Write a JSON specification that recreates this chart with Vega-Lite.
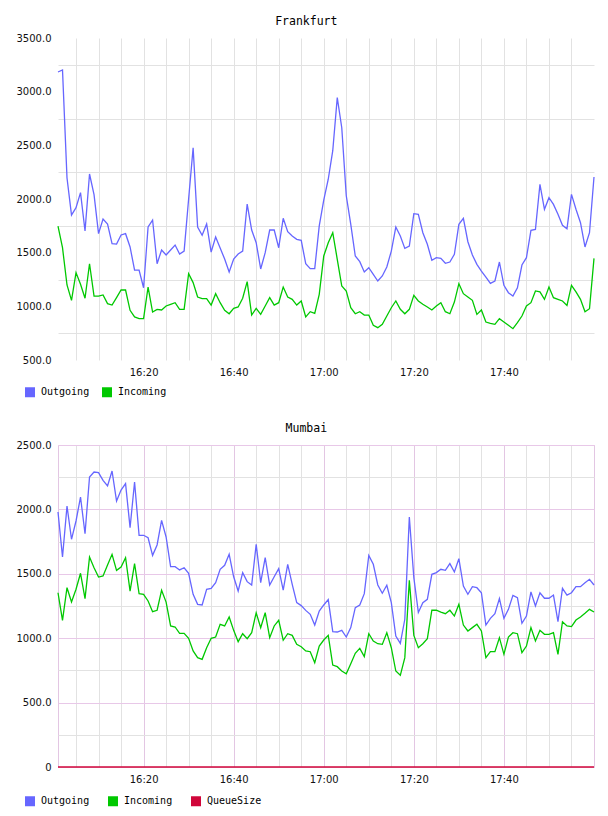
{
"$schema": "https://vega.github.io/schema/vega-lite/v6.json",
"padding": {"left": 15, "top": 15, "right": 0, "bottom": 0},
"background": "white",
"config": {
  "font": "DejaVu Sans",
  "view": {"stroke": null},
  "axis": {"labelFont": "DejaVu Sans", "labelFontSize": 10, "labelColor": "#111", "ticks": false, "domain": false, "labelOverlap": false},
  "title": {"font": "DejaVu Sans Mono", "fontSize": 11.5, "fontWeight": "normal", "color": "#000", "offset": 6, "frame": "bounds", "anchor": "middle"},
  "legend": {"direction": "horizontal", "symbolType": "square", "symbolSize": 25, "symbolStrokeWidth": 5, "symbolOpacity": 1, "labelFont": "DejaVu Sans Mono", "labelFontSize": 10, "labelColor": "#000", "labelOffset": 6, "padding": 0}
},
"spacing": 17,
"resolve": {"scale": {"x": "independent", "y": "independent", "color": "independent"}},
"vconcat": [
{
  "title": "Frankfurt",
  "width": 536, "height": 322,
  "data": {"values": [
{"t":"2024-01-01T16:01","Outgoing":3183,"Incoming":1748},{"t":"2024-01-01T16:02","Outgoing":3202,"Incoming":1546},{"t":"2024-01-01T16:03","Outgoing":2196,"Incoming":1199},{"t":"2024-01-01T16:04","Outgoing":1851,"Incoming":1056},{"t":"2024-01-01T16:05","Outgoing":1919,"Incoming":1314},{"t":"2024-01-01T16:06","Outgoing":2059,"Incoming":1205},{"t":"2024-01-01T16:07","Outgoing":1702,"Incoming":1075},{"t":"2024-01-01T16:08","Outgoing":2233,"Incoming":1397},{"t":"2024-01-01T16:09","Outgoing":2040,"Incoming":1096},{"t":"2024-01-01T16:10","Outgoing":1677,"Incoming":1096},
{"t":"2024-01-01T16:11","Outgoing":1813,"Incoming":1106},{"t":"2024-01-01T16:12","Outgoing":1767,"Incoming":1025},{"t":"2024-01-01T16:13","Outgoing":1583,"Incoming":1012},{"t":"2024-01-01T16:14","Outgoing":1580,"Incoming":1081},{"t":"2024-01-01T16:15","Outgoing":1665,"Incoming":1152},{"t":"2024-01-01T16:16","Outgoing":1677,"Incoming":1152},{"t":"2024-01-01T16:17","Outgoing":1553,"Incoming":963},{"t":"2024-01-01T16:18","Outgoing":1338,"Incoming":901},{"t":"2024-01-01T16:19","Outgoing":1338,"Incoming":885},{"t":"2024-01-01T16:20","Outgoing":1173,"Incoming":885},
{"t":"2024-01-01T16:21","Outgoing":1739,"Incoming":1180},{"t":"2024-01-01T16:22","Outgoing":1804,"Incoming":947},{"t":"2024-01-01T16:23","Outgoing":1397,"Incoming":972},{"t":"2024-01-01T16:24","Outgoing":1525,"Incoming":966},{"t":"2024-01-01T16:25","Outgoing":1478,"Incoming":1003},{"t":"2024-01-01T16:26","Outgoing":1525,"Incoming":1019},{"t":"2024-01-01T16:27","Outgoing":1571,"Incoming":1034},{"t":"2024-01-01T16:28","Outgoing":1487,"Incoming":972},{"t":"2024-01-01T16:29","Outgoing":1515,"Incoming":972},{"t":"2024-01-01T16:30","Outgoing":2000,"Incoming":1304},
{"t":"2024-01-01T16:31","Outgoing":2478,"Incoming":1221},{"t":"2024-01-01T16:32","Outgoing":1739,"Incoming":1087},{"t":"2024-01-01T16:33","Outgoing":1662,"Incoming":1071},{"t":"2024-01-01T16:34","Outgoing":1767,"Incoming":1071},{"t":"2024-01-01T16:35","Outgoing":1506,"Incoming":1012},{"t":"2024-01-01T16:36","Outgoing":1646,"Incoming":1118},{"t":"2024-01-01T16:37","Outgoing":1543,"Incoming":1034},{"t":"2024-01-01T16:38","Outgoing":1441,"Incoming":963},{"t":"2024-01-01T16:39","Outgoing":1320,"Incoming":931},{"t":"2024-01-01T16:40","Outgoing":1441,"Incoming":981},
{"t":"2024-01-01T16:41","Outgoing":1487,"Incoming":994},{"t":"2024-01-01T16:42","Outgoing":1515,"Incoming":1075},{"t":"2024-01-01T16:43","Outgoing":1953,"Incoming":1230},{"t":"2024-01-01T16:44","Outgoing":1711,"Incoming":919},{"t":"2024-01-01T16:45","Outgoing":1593,"Incoming":981},{"t":"2024-01-01T16:46","Outgoing":1348,"Incoming":925},{"t":"2024-01-01T16:47","Outgoing":1500,"Incoming":1003},{"t":"2024-01-01T16:48","Outgoing":1711,"Incoming":1081},{"t":"2024-01-01T16:49","Outgoing":1711,"Incoming":1012},{"t":"2024-01-01T16:50","Outgoing":1546,"Incoming":1034},
{"t":"2024-01-01T16:51","Outgoing":1820,"Incoming":1180},{"t":"2024-01-01T16:52","Outgoing":1696,"Incoming":1087},{"t":"2024-01-01T16:53","Outgoing":1655,"Incoming":1065},{"t":"2024-01-01T16:54","Outgoing":1624,"Incoming":1012},{"t":"2024-01-01T16:55","Outgoing":1615,"Incoming":1050},{"t":"2024-01-01T16:56","Outgoing":1397,"Incoming":901},{"t":"2024-01-01T16:57","Outgoing":1351,"Incoming":950},{"t":"2024-01-01T16:58","Outgoing":1351,"Incoming":935},{"t":"2024-01-01T16:59","Outgoing":1750,"Incoming":1112},{"t":"2024-01-01T17:00","Outgoing":1990,"Incoming":1469},
{"t":"2024-01-01T17:01","Outgoing":2184,"Incoming":1593},{"t":"2024-01-01T17:02","Outgoing":2450,"Incoming":1686},{"t":"2024-01-01T17:03","Outgoing":2944,"Incoming":1438},{"t":"2024-01-01T17:04","Outgoing":2664,"Incoming":1189},{"t":"2024-01-01T17:05","Outgoing":2030,"Incoming":1143},{"t":"2024-01-01T17:06","Outgoing":1764,"Incoming":987},{"t":"2024-01-01T17:07","Outgoing":1469,"Incoming":931},{"t":"2024-01-01T17:08","Outgoing":1416,"Incoming":950},{"t":"2024-01-01T17:09","Outgoing":1320,"Incoming":919},{"t":"2024-01-01T17:10","Outgoing":1360,"Incoming":919},
{"t":"2024-01-01T17:11","Outgoing":1298,"Incoming":823},{"t":"2024-01-01T17:12","Outgoing":1236,"Incoming":801},{"t":"2024-01-01T17:13","Outgoing":1283,"Incoming":832},{"t":"2024-01-01T17:14","Outgoing":1367,"Incoming":910},{"t":"2024-01-01T17:15","Outgoing":1515,"Incoming":987},{"t":"2024-01-01T17:16","Outgoing":1739,"Incoming":1050},{"t":"2024-01-01T17:17","Outgoing":1655,"Incoming":972},{"t":"2024-01-01T17:18","Outgoing":1540,"Incoming":931},{"t":"2024-01-01T17:19","Outgoing":1562,"Incoming":972},{"t":"2024-01-01T17:20","Outgoing":1863,"Incoming":1103},
{"t":"2024-01-01T17:21","Outgoing":1857,"Incoming":1050},{"t":"2024-01-01T17:22","Outgoing":1686,"Incoming":1019},{"t":"2024-01-01T17:23","Outgoing":1578,"Incoming":994},{"t":"2024-01-01T17:24","Outgoing":1429,"Incoming":966},{"t":"2024-01-01T17:25","Outgoing":1453,"Incoming":1003},{"t":"2024-01-01T17:26","Outgoing":1447,"Incoming":1034},{"t":"2024-01-01T17:27","Outgoing":1401,"Incoming":950},{"t":"2024-01-01T17:28","Outgoing":1413,"Incoming":931},{"t":"2024-01-01T17:29","Outgoing":1484,"Incoming":1040},{"t":"2024-01-01T17:30","Outgoing":1764,"Incoming":1211},
{"t":"2024-01-01T17:31","Outgoing":1820,"Incoming":1118},{"t":"2024-01-01T17:32","Outgoing":1602,"Incoming":1087},{"t":"2024-01-01T17:33","Outgoing":1478,"Incoming":1056},{"t":"2024-01-01T17:34","Outgoing":1391,"Incoming":925},{"t":"2024-01-01T17:35","Outgoing":1329,"Incoming":966},{"t":"2024-01-01T17:36","Outgoing":1273,"Incoming":854},{"t":"2024-01-01T17:37","Outgoing":1214,"Incoming":842},{"t":"2024-01-01T17:38","Outgoing":1236,"Incoming":832},{"t":"2024-01-01T17:39","Outgoing":1413,"Incoming":885},{"t":"2024-01-01T17:40","Outgoing":1196,"Incoming":854},
{"t":"2024-01-01T17:41","Outgoing":1127,"Incoming":823},{"t":"2024-01-01T17:42","Outgoing":1096,"Incoming":792},{"t":"2024-01-01T17:43","Outgoing":1173,"Incoming":848},{"t":"2024-01-01T17:44","Outgoing":1385,"Incoming":910},{"t":"2024-01-01T17:45","Outgoing":1453,"Incoming":1003},{"t":"2024-01-01T17:46","Outgoing":1708,"Incoming":1034},{"t":"2024-01-01T17:47","Outgoing":1717,"Incoming":1143},{"t":"2024-01-01T17:48","Outgoing":2137,"Incoming":1134},{"t":"2024-01-01T17:49","Outgoing":1904,"Incoming":1065},{"t":"2024-01-01T17:50","Outgoing":2012,"Incoming":1180},
{"t":"2024-01-01T17:51","Outgoing":1950,"Incoming":1081},{"t":"2024-01-01T17:52","Outgoing":1857,"Incoming":1065},{"t":"2024-01-01T17:53","Outgoing":1755,"Incoming":1050},{"t":"2024-01-01T17:54","Outgoing":1723,"Incoming":1009},{"t":"2024-01-01T17:55","Outgoing":2043,"Incoming":1196},{"t":"2024-01-01T17:56","Outgoing":1904,"Incoming":1134},{"t":"2024-01-01T17:57","Outgoing":1779,"Incoming":1065},{"t":"2024-01-01T17:58","Outgoing":1553,"Incoming":950},{"t":"2024-01-01T17:59","Outgoing":1686,"Incoming":978},{"t":"2024-01-01T18:00","Outgoing":2205,"Incoming":1447}
  ]},
  "transform": [{"fold": ["Outgoing", "Incoming"], "as": ["series", "value"]}],
  "mark": {"type": "line", "strokeWidth": 1.3},
  "encoding": {
    "x": {"field": "t", "type": "temporal", "title": null, "scale": {"nice": false},
      "axis": {"values": [
        {"year":2024,"month":1,"date":1,"hours":16,"minutes":5},{"year":2024,"month":1,"date":1,"hours":16,"minutes":10},{"year":2024,"month":1,"date":1,"hours":16,"minutes":15},{"year":2024,"month":1,"date":1,"hours":16,"minutes":20},
        {"year":2024,"month":1,"date":1,"hours":16,"minutes":25},{"year":2024,"month":1,"date":1,"hours":16,"minutes":30},{"year":2024,"month":1,"date":1,"hours":16,"minutes":35},{"year":2024,"month":1,"date":1,"hours":16,"minutes":40},
        {"year":2024,"month":1,"date":1,"hours":16,"minutes":45},{"year":2024,"month":1,"date":1,"hours":16,"minutes":50},{"year":2024,"month":1,"date":1,"hours":16,"minutes":55},{"year":2024,"month":1,"date":1,"hours":17,"minutes":0},
        {"year":2024,"month":1,"date":1,"hours":17,"minutes":5},{"year":2024,"month":1,"date":1,"hours":17,"minutes":10},{"year":2024,"month":1,"date":1,"hours":17,"minutes":15},{"year":2024,"month":1,"date":1,"hours":17,"minutes":20},
        {"year":2024,"month":1,"date":1,"hours":17,"minutes":25},{"year":2024,"month":1,"date":1,"hours":17,"minutes":30},{"year":2024,"month":1,"date":1,"hours":17,"minutes":35},{"year":2024,"month":1,"date":1,"hours":17,"minutes":40},
        {"year":2024,"month":1,"date":1,"hours":17,"minutes":45},{"year":2024,"month":1,"date":1,"hours":17,"minutes":50},{"year":2024,"month":1,"date":1,"hours":17,"minutes":55}],
        "grid": true, "gridColor": "#e2e2e2",
        "labelExpr": "minutes(datum.value) % 20 == 0 ? timeFormat(datum.value, '%H:%M') : ''",
        "labelPadding": 7, "labelFlush": false}},
    "y": {"field": "value", "type": "quantitative", "title": null, "scale": {"domain": [500, 3500], "nice": false, "zero": false},
      "axis": {"values": [500, 750, 1000, 1250, 1500, 1750, 2000, 2250, 2500, 2750, 3000, 3250, 3500], "grid": true, "gridColor": "#e2e2e2",
        "gridOpacity": {"condition": {"test": "datum.value % 500 == 0", "value": 0}, "value": 1},
        "labelExpr": "datum.value % 500 == 0 ? format(datum.value, '.1f') : ''", "labelPadding": 7}},
    "color": {"field": "series", "type": "nominal", "title": null, "scale": {"domain": ["Outgoing", "Incoming"], "range": ["#6666ff", "#00c800"]},
      "legend": {"orient": "none", "legendX": -33, "legendY": 349, "columnPadding": 4}}
  }
},
{
  "title": "Mumbai",
  "width": 536, "height": 322,
  "view": {"stroke": "#e3c6e3", "strokeWidth": 1},
  "data": {"values": [
{"t":"2024-01-01T16:01","Outgoing":1980,"Incoming":1353,"QueueSize":0},{"t":"2024-01-01T16:02","Outgoing":1630,"Incoming":1138,"QueueSize":0},{"t":"2024-01-01T16:03","Outgoing":2026,"Incoming":1392,"QueueSize":0},{"t":"2024-01-01T16:04","Outgoing":1768,"Incoming":1281,"QueueSize":0},{"t":"2024-01-01T16:05","Outgoing":1910,"Incoming":1380,"QueueSize":0},{"t":"2024-01-01T16:06","Outgoing":2096,"Incoming":1504,"QueueSize":0},{"t":"2024-01-01T16:07","Outgoing":1811,"Incoming":1307,"QueueSize":0},{"t":"2024-01-01T16:08","Outgoing":2252,"Incoming":1630,"QueueSize":0},{"t":"2024-01-01T16:09","Outgoing":2290,"Incoming":1547,"QueueSize":0},{"t":"2024-01-01T16:10","Outgoing":2285,"Incoming":1475,"QueueSize":0},
{"t":"2024-01-01T16:11","Outgoing":2226,"Incoming":1483,"QueueSize":0},{"t":"2024-01-01T16:12","Outgoing":2182,"Incoming":1568,"QueueSize":0},{"t":"2024-01-01T16:13","Outgoing":2298,"Incoming":1651,"QueueSize":0},{"t":"2024-01-01T16:14","Outgoing":2065,"Incoming":1527,"QueueSize":0},{"t":"2024-01-01T16:15","Outgoing":2150,"Incoming":1553,"QueueSize":0},{"t":"2024-01-01T16:16","Outgoing":2200,"Incoming":1625,"QueueSize":0},{"t":"2024-01-01T16:17","Outgoing":1858,"Incoming":1366,"QueueSize":0},{"t":"2024-01-01T16:18","Outgoing":2213,"Incoming":1579,"QueueSize":0},{"t":"2024-01-01T16:19","Outgoing":1799,"Incoming":1346,"QueueSize":0},{"t":"2024-01-01T16:20","Outgoing":1799,"Incoming":1341,"QueueSize":0},
{"t":"2024-01-01T16:21","Outgoing":1780,"Incoming":1289,"QueueSize":0},{"t":"2024-01-01T16:22","Outgoing":1643,"Incoming":1206,"QueueSize":0},{"t":"2024-01-01T16:23","Outgoing":1724,"Incoming":1217,"QueueSize":0},{"t":"2024-01-01T16:24","Outgoing":1915,"Incoming":1372,"QueueSize":0},{"t":"2024-01-01T16:25","Outgoing":1786,"Incoming":1280,"QueueSize":0},{"t":"2024-01-01T16:26","Outgoing":1555,"Incoming":1095,"QueueSize":0},{"t":"2024-01-01T16:27","Outgoing":1555,"Incoming":1087,"QueueSize":0},{"t":"2024-01-01T16:28","Outgoing":1530,"Incoming":1038,"QueueSize":0},{"t":"2024-01-01T16:29","Outgoing":1547,"Incoming":1038,"QueueSize":0},{"t":"2024-01-01T16:30","Outgoing":1504,"Incoming":999,"QueueSize":0},
{"t":"2024-01-01T16:31","Outgoing":1341,"Incoming":901,"QueueSize":0},{"t":"2024-01-01T16:32","Outgoing":1263,"Incoming":849,"QueueSize":0},{"t":"2024-01-01T16:33","Outgoing":1258,"Incoming":836,"QueueSize":0},{"t":"2024-01-01T16:34","Outgoing":1380,"Incoming":926,"QueueSize":0},{"t":"2024-01-01T16:35","Outgoing":1387,"Incoming":999,"QueueSize":0},{"t":"2024-01-01T16:36","Outgoing":1431,"Incoming":1009,"QueueSize":0},{"t":"2024-01-01T16:37","Outgoing":1535,"Incoming":1108,"QueueSize":0},{"t":"2024-01-01T16:38","Outgoing":1566,"Incoming":1095,"QueueSize":0},{"t":"2024-01-01T16:39","Outgoing":1651,"Incoming":1165,"QueueSize":0},{"t":"2024-01-01T16:40","Outgoing":1477,"Incoming":1061,"QueueSize":0},
{"t":"2024-01-01T16:41","Outgoing":1366,"Incoming":973,"QueueSize":0},{"t":"2024-01-01T16:42","Outgoing":1509,"Incoming":1035,"QueueSize":0},{"t":"2024-01-01T16:43","Outgoing":1439,"Incoming":996,"QueueSize":0},{"t":"2024-01-01T16:44","Outgoing":1413,"Incoming":1043,"QueueSize":0},{"t":"2024-01-01T16:45","Outgoing":1729,"Incoming":1198,"QueueSize":0},{"t":"2024-01-01T16:46","Outgoing":1431,"Incoming":1082,"QueueSize":0},{"t":"2024-01-01T16:47","Outgoing":1625,"Incoming":1198,"QueueSize":0},{"t":"2024-01-01T16:48","Outgoing":1413,"Incoming":1004,"QueueSize":0},{"t":"2024-01-01T16:49","Outgoing":1477,"Incoming":1095,"QueueSize":0},{"t":"2024-01-01T16:50","Outgoing":1540,"Incoming":1139,"QueueSize":0},
{"t":"2024-01-01T16:51","Outgoing":1374,"Incoming":984,"QueueSize":0},{"t":"2024-01-01T16:52","Outgoing":1574,"Incoming":1035,"QueueSize":0},{"t":"2024-01-01T16:53","Outgoing":1418,"Incoming":1022,"QueueSize":0},{"t":"2024-01-01T16:54","Outgoing":1276,"Incoming":952,"QueueSize":0},{"t":"2024-01-01T16:55","Outgoing":1253,"Incoming":934,"QueueSize":0},{"t":"2024-01-01T16:56","Outgoing":1216,"Incoming":901,"QueueSize":0},{"t":"2024-01-01T16:57","Outgoing":1185,"Incoming":895,"QueueSize":0},{"t":"2024-01-01T16:58","Outgoing":1102,"Incoming":810,"QueueSize":0},{"t":"2024-01-01T16:59","Outgoing":1211,"Incoming":939,"QueueSize":0},{"t":"2024-01-01T17:00","Outgoing":1258,"Incoming":986,"QueueSize":0},
{"t":"2024-01-01T17:01","Outgoing":1300,"Incoming":1022,"QueueSize":0},{"t":"2024-01-01T17:02","Outgoing":1051,"Incoming":792,"QueueSize":0},{"t":"2024-01-01T17:03","Outgoing":1048,"Incoming":779,"QueueSize":0},{"t":"2024-01-01T17:04","Outgoing":1061,"Incoming":745,"QueueSize":0},{"t":"2024-01-01T17:05","Outgoing":1009,"Incoming":724,"QueueSize":0},{"t":"2024-01-01T17:06","Outgoing":1082,"Incoming":802,"QueueSize":0},{"t":"2024-01-01T17:07","Outgoing":1237,"Incoming":883,"QueueSize":0},{"t":"2024-01-01T17:08","Outgoing":1258,"Incoming":921,"QueueSize":0},{"t":"2024-01-01T17:09","Outgoing":1346,"Incoming":857,"QueueSize":0},{"t":"2024-01-01T17:10","Outgoing":1643,"Incoming":1035,"QueueSize":0},
{"t":"2024-01-01T17:11","Outgoing":1574,"Incoming":978,"QueueSize":0},{"t":"2024-01-01T17:12","Outgoing":1413,"Incoming":957,"QueueSize":0},{"t":"2024-01-01T17:13","Outgoing":1349,"Incoming":952,"QueueSize":0},{"t":"2024-01-01T17:14","Outgoing":1411,"Incoming":1043,"QueueSize":0},{"t":"2024-01-01T17:15","Outgoing":1276,"Incoming":926,"QueueSize":0},{"t":"2024-01-01T17:16","Outgoing":1017,"Incoming":745,"QueueSize":0},{"t":"2024-01-01T17:17","Outgoing":960,"Incoming":712,"QueueSize":0},{"t":"2024-01-01T17:18","Outgoing":1147,"Incoming":849,"QueueSize":0},{"t":"2024-01-01T17:19","Outgoing":1941,"Incoming":1449,"QueueSize":0},{"t":"2024-01-01T17:20","Outgoing":1470,"Incoming":1022,"QueueSize":0},
{"t":"2024-01-01T17:21","Outgoing":1200,"Incoming":926,"QueueSize":0},{"t":"2024-01-01T17:22","Outgoing":1276,"Incoming":957,"QueueSize":0},{"t":"2024-01-01T17:23","Outgoing":1302,"Incoming":996,"QueueSize":0},{"t":"2024-01-01T17:24","Outgoing":1496,"Incoming":1217,"QueueSize":0},{"t":"2024-01-01T17:25","Outgoing":1509,"Incoming":1217,"QueueSize":0},{"t":"2024-01-01T17:26","Outgoing":1535,"Incoming":1203,"QueueSize":0},{"t":"2024-01-01T17:27","Outgoing":1527,"Incoming":1190,"QueueSize":0},{"t":"2024-01-01T17:28","Outgoing":1579,"Incoming":1217,"QueueSize":0},{"t":"2024-01-01T17:29","Outgoing":1514,"Incoming":1172,"QueueSize":0},{"t":"2024-01-01T17:30","Outgoing":1617,"Incoming":1263,"QueueSize":0},
{"t":"2024-01-01T17:31","Outgoing":1405,"Incoming":1102,"QueueSize":0},{"t":"2024-01-01T17:32","Outgoing":1341,"Incoming":1056,"QueueSize":0},{"t":"2024-01-01T17:33","Outgoing":1400,"Incoming":1082,"QueueSize":0},{"t":"2024-01-01T17:34","Outgoing":1392,"Incoming":1108,"QueueSize":0},{"t":"2024-01-01T17:35","Outgoing":1353,"Incoming":1056,"QueueSize":0},{"t":"2024-01-01T17:36","Outgoing":1102,"Incoming":849,"QueueSize":0},{"t":"2024-01-01T17:37","Outgoing":1154,"Incoming":895,"QueueSize":0},{"t":"2024-01-01T17:38","Outgoing":1190,"Incoming":895,"QueueSize":0},{"t":"2024-01-01T17:39","Outgoing":1307,"Incoming":1004,"QueueSize":0},{"t":"2024-01-01T17:40","Outgoing":1154,"Incoming":875,"QueueSize":0},
{"t":"2024-01-01T17:41","Outgoing":1224,"Incoming":1009,"QueueSize":0},{"t":"2024-01-01T17:42","Outgoing":1333,"Incoming":1043,"QueueSize":0},{"t":"2024-01-01T17:43","Outgoing":1315,"Incoming":1035,"QueueSize":0},{"t":"2024-01-01T17:44","Outgoing":1116,"Incoming":888,"QueueSize":0},{"t":"2024-01-01T17:45","Outgoing":1172,"Incoming":939,"QueueSize":0},{"t":"2024-01-01T17:46","Outgoing":1359,"Incoming":1082,"QueueSize":0},{"t":"2024-01-01T17:47","Outgoing":1250,"Incoming":978,"QueueSize":0},{"t":"2024-01-01T17:48","Outgoing":1353,"Incoming":1061,"QueueSize":0},{"t":"2024-01-01T17:49","Outgoing":1310,"Incoming":1030,"QueueSize":0},{"t":"2024-01-01T17:50","Outgoing":1310,"Incoming":1030,"QueueSize":0},
{"t":"2024-01-01T17:51","Outgoing":1335,"Incoming":1043,"QueueSize":0},{"t":"2024-01-01T17:52","Outgoing":1128,"Incoming":875,"QueueSize":0},{"t":"2024-01-01T17:53","Outgoing":1387,"Incoming":1128,"QueueSize":0},{"t":"2024-01-01T17:54","Outgoing":1335,"Incoming":1095,"QueueSize":0},{"t":"2024-01-01T17:55","Outgoing":1353,"Incoming":1090,"QueueSize":0},{"t":"2024-01-01T17:56","Outgoing":1400,"Incoming":1141,"QueueSize":0},{"t":"2024-01-01T17:57","Outgoing":1400,"Incoming":1165,"QueueSize":0},{"t":"2024-01-01T17:58","Outgoing":1431,"Incoming":1193,"QueueSize":0},{"t":"2024-01-01T17:59","Outgoing":1457,"Incoming":1224,"QueueSize":0},{"t":"2024-01-01T18:00","Outgoing":1413,"Incoming":1203,"QueueSize":0}
  ]},
  "transform": [{"fold": ["Outgoing", "Incoming", "QueueSize"], "as": ["series", "value"]}],
  "mark": {"type": "line", "strokeWidth": 1.3},
  "encoding": {
    "x": {"field": "t", "type": "temporal", "title": null, "scale": {"nice": false},
      "axis": {"values": [
        {"year":2024,"month":1,"date":1,"hours":16,"minutes":5},{"year":2024,"month":1,"date":1,"hours":16,"minutes":10},{"year":2024,"month":1,"date":1,"hours":16,"minutes":15},{"year":2024,"month":1,"date":1,"hours":16,"minutes":20},
        {"year":2024,"month":1,"date":1,"hours":16,"minutes":25},{"year":2024,"month":1,"date":1,"hours":16,"minutes":30},{"year":2024,"month":1,"date":1,"hours":16,"minutes":35},{"year":2024,"month":1,"date":1,"hours":16,"minutes":40},
        {"year":2024,"month":1,"date":1,"hours":16,"minutes":45},{"year":2024,"month":1,"date":1,"hours":16,"minutes":50},{"year":2024,"month":1,"date":1,"hours":16,"minutes":55},{"year":2024,"month":1,"date":1,"hours":17,"minutes":0},
        {"year":2024,"month":1,"date":1,"hours":17,"minutes":5},{"year":2024,"month":1,"date":1,"hours":17,"minutes":10},{"year":2024,"month":1,"date":1,"hours":17,"minutes":15},{"year":2024,"month":1,"date":1,"hours":17,"minutes":20},
        {"year":2024,"month":1,"date":1,"hours":17,"minutes":25},{"year":2024,"month":1,"date":1,"hours":17,"minutes":30},{"year":2024,"month":1,"date":1,"hours":17,"minutes":35},{"year":2024,"month":1,"date":1,"hours":17,"minutes":40},
        {"year":2024,"month":1,"date":1,"hours":17,"minutes":45},{"year":2024,"month":1,"date":1,"hours":17,"minutes":50},{"year":2024,"month":1,"date":1,"hours":17,"minutes":55},{"year":2024,"month":1,"date":1,"hours":18,"minutes":0}],
        "grid": true,
        "gridColor": {"condition": {"test": "minutes(datum.value) % 20 == 0", "value": "#e3c6e3"}, "value": "#e2e2e2"},
        "labelExpr": "minutes(datum.value) % 20 == 0 && hours(datum.value) < 18 ? timeFormat(datum.value, '%H:%M') : ''",
        "labelPadding": 7, "labelFlush": false}},
    "y": {"field": "value", "type": "quantitative", "title": null, "scale": {"domain": [0, 2500], "nice": false},
      "axis": {"values": [0, 250, 500, 750, 1000, 1250, 1500, 1750, 2000, 2250, 2500], "grid": true,
        "gridColor": {"condition": {"test": "datum.value % 500 == 0", "value": "#e8c8e8"}, "value": "#e2e2e2"},
        "labelExpr": "datum.value == 0 ? '0' : datum.value % 500 == 0 ? format(datum.value, '.1f') : ''", "labelPadding": 7}},
    "color": {"field": "series", "type": "nominal", "title": null, "scale": {"domain": ["Outgoing", "Incoming", "QueueSize"], "range": ["#6666ff", "#00c800", "#d0063a"]},
      "legend": {"orient": "none", "legendX": -33, "legendY": 351, "columnPadding": 10}}
  }
}
]
}
